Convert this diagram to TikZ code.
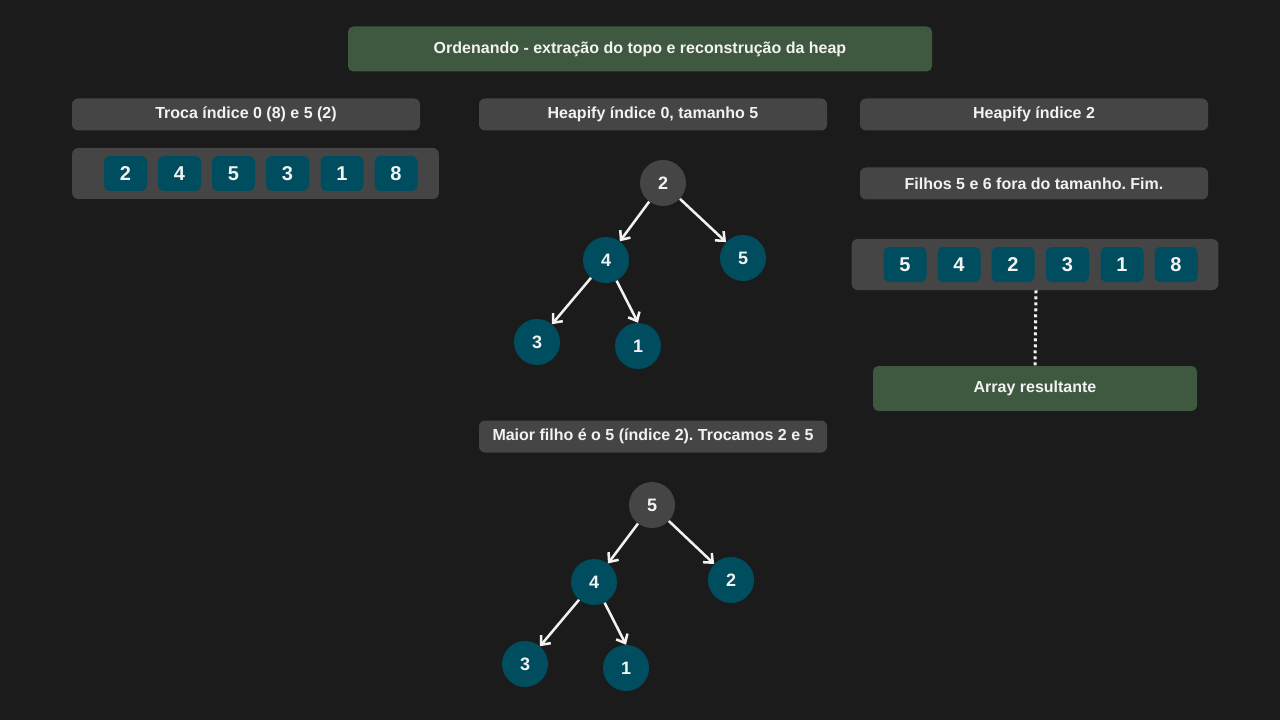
\documentclass[tikz,border=0pt]{standalone}
\usepackage{fontspec}
\setmainfont{Liberation Sans}
\usetikzlibrary{arrows.meta}
\usepackage{xcolor}
\frenchspacing
\definecolor{bgdark}{HTML}{1B1B1B}
\definecolor{boxgrey}{HTML}{454545}
\definecolor{cellteal}{HTML}{004D60}
\definecolor{headgreen}{HTML}{3F5940}
\definecolor{textwhite}{HTML}{F2F2F2}

\begin{document}
\begin{tikzpicture}[x=0.75pt, y=-0.75pt, font=\bfseries]
\tikzset{titlebox/.style={fill=headgreen, rounded corners=4pt, text=textwhite, text centered, minimum width=438pt, minimum height=33.75pt, font=\fontsize{12}{14}\selectfont\bfseries} }
\tikzset{stepbox/.style={fill=boxgrey, rounded corners=4.5pt, text=textwhite, text centered, minimum width=261pt, minimum height=24pt, font=\fontsize{12}{14}\selectfont\bfseries} }
\tikzset{arraybox/.style={fill=boxgrey, rounded corners=4.5pt, minimum width=275pt, minimum height=38.25pt} }
\tikzset{cell/.style={fill=cellteal, rounded corners=4.5pt, text=textwhite, minimum width=32.25pt, minimum height=26.25pt, inner sep=0pt, font=\fontsize{15}{18}\selectfont\bfseries} }
\tikzset{heapnode/.style={circle, fill=cellteal, text=textwhite, minimum size=34.5pt, inner sep=0pt, font=\fontsize{13.5}{16}\selectfont\bfseries} }
\tikzset{toproot/.style={heapnode, fill=boxgrey} }
\tikzset{>={Straight Barb[length=5.5pt,width=9.5pt]}}
\tikzset{link/.style={->, draw=textwhite, line width=1.9pt} }

\fill[bgdark] (0,0) rectangle (1280,720);
\useasboundingbox (0,0) rectangle (1280,720);

\node[titlebox] (title) at (640,49) {Ordenando - extração do topo e reconstrução da heap};

\node[stepbox] (swap) at (246,114.5) {Troca índice 0 (8) e 5 (2)};
\node[arraybox] (arr1) at (255.5,173.5) {};
\node[cell] (c1) at (125.5,173.5) {2};
\node[cell] (c2) at (179.5,173.5) {4};
\node[cell] (c3) at (233.5,173.5) {5};
\node[cell] (c4) at (287.5,173.5) {3};
\node[cell] (c5) at (342,173.5) {1};
\node[cell] (c6) at (396,173.5) {8};

\node[stepbox] (heapzero) at (653,114.5) {Heapify índice 0, tamanho 5};
\node[toproot] (r1) at (663,183) {2};
\node[heapnode] (a4) at (606,260) {4};
\node[heapnode] (a5) at (743,258) {5};
\node[heapnode] (a3) at (537,342) {3};
\node[heapnode] (a1) at (638,346) {1};
\path[link] (r1) edge (a4);
\path[link] (r1) edge (a5);
\path[link] (a4) edge (a3);
\path[link] (a4) edge (a1.north);

\node[stepbox] (bigger) at (653,436.5) {Maior filho é o 5 (índice 2). Trocamos 2 e 5};
\node[toproot] (r2) at (652,505) {5};
\node[heapnode] (b4) at (594,582) {4};
\node[heapnode] (b2) at (731,580) {2};
\node[heapnode] (b3) at (525,664) {3};
\node[heapnode] (b1) at (626,668) {1};
\path[link] (r2) edge (b4);
\path[link] (r2) edge (b2);
\path[link] (b4) edge (b3);
\path[link] (b4) edge (b1.north);

\node[stepbox] (heaptwo) at (1034,114.5) {Heapify índice 2};
\node[stepbox] (done) at (1034,183.5) {Filhos 5 e 6 fora do tamanho. Fim.};
\node[arraybox] (arr2) at (1035,264.5) {};
\node[cell] (d1) at (905,264.5) {5};
\node[cell] (d2) at (959,264.5) {4};
\node[cell] (d3) at (1013,264.5) {2};
\node[cell] (d4) at (1067.5,264.5) {3};
\node[cell] (d5) at (1122,264.5) {1};
\node[cell] (d6) at (1176,264.5) {8};
\node[titlebox, minimum width=243pt] (result) at (1035,388.5) {Array resultante};
\draw[textwhite, line width=2.25pt, dash pattern=on 2.25pt off 2.25pt] (arr2.south) ++(1,0) coordinate (dtop) (dtop) -- (result.north);
\end{tikzpicture}
\end{document}
